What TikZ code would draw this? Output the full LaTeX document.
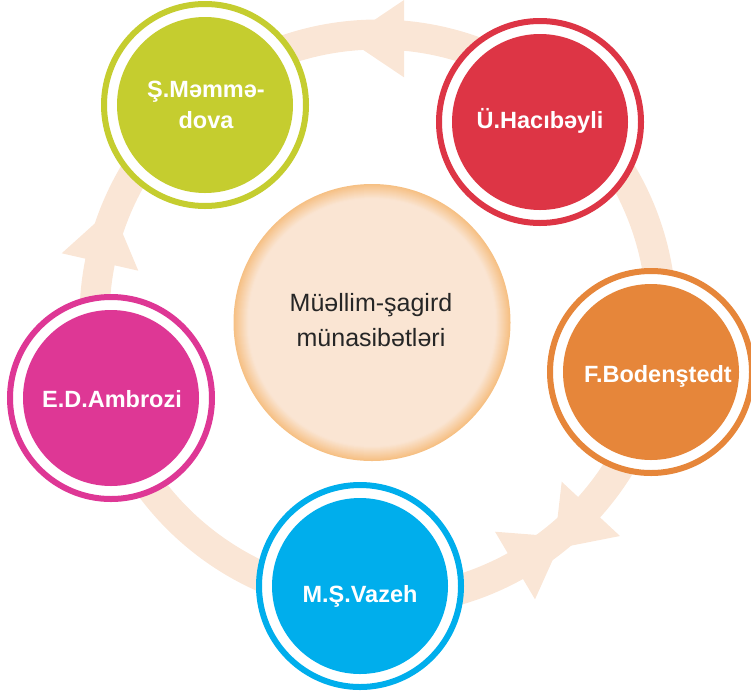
\documentclass[tikz,border=0pt]{standalone}
\usepackage{fontspec}
\setmainfont{Liberation Sans}
\definecolor{bandc}{RGB}{250,230,214}
\definecolor{cpeach}{RGB}{250,229,211}
\definecolor{cedge}{RGB}{246,192,132}
\definecolor{cgreen}{RGB}{197,205,47}
\definecolor{cred}{RGB}{221,53,69}
\definecolor{corange}{RGB}{230,134,58}
\definecolor{cblue}{RGB}{0,174,236}
\definecolor{cpink}{RGB}{222,55,149}
\begin{document}
\begin{tikzpicture}[x=1pt,y=-1pt,
  ringc/.style={circle, line width=6pt, fill=white, minimum size=202pt, inner sep=0pt, outer sep=0pt},
  discc/.style={circle, minimum size=176pt, inner sep=0pt, outer sep=0pt},
  lab/.style={text=white, font=\bfseries\fontsize{23.5}{31}\selectfont, align=center, inner sep=0pt},
  ctext/.style={text=black!85, font=\fontsize{25}{35}\selectfont, align=center, inner sep=0pt},
  arrowfill/.style={fill=bandc}
]
\useasboundingbox (0,0) rectangle (751,694);
% ring band with arrowheads
\draw[bandc, line width=30pt] (378,318) circle[radius=283.5pt];
\fill[arrowfill] (404,0) -- (404,77.3) -- (346.5,38.7) -- cycle;
\fill[arrowfill] (61.7,253.3) -- (138.3,270.7) -- (112,208) -- cycle;
\fill[arrowfill] (561.7,481.7) -- (620,536) -- (554,549) -- cycle;
\fill[arrowfill] (495,531.7) -- (535,599.3) -- (563,537) -- cycle;
% centre with soft orange rim
\node[circle, minimum size=277pt, inner sep=0pt, fill=cedge] (c) at (372,322.5) {};
\foreach \i [evaluate=\i as \p using {min(100,7*\i)}] in {1,...,15}
  \fill[cpeach!\p!cedge] (c.center) circle[radius={(138.5-\i)*1pt}];
\node[ctext] (ct) at (371,320) {Müəllim-şagird\\münasibətləri};
% green
\node[ringc, draw=cgreen] (g) at (205,105) {};
\node[discc, fill=cgreen] (gd) at (g) {};
\node[lab] (gt) at (206,105) {Ş.Məmmə-\\dova};
% red
\node[ringc, draw=cred] (r) at (540,122) {};
\node[discc, fill=cred] (rd) at (r) {};
\node[lab, anchor=base] (rt) at (540,128) {Ü.Hacıbəyli};
% orange
\node[ringc, draw=corange] (o) at (651,372) {};
\node[discc, fill=corange] (od) at (o) {};
\node[lab, anchor=base] (ot) at (658,382) {F.Bodenştedt};
% blue
\node[ringc, draw=cblue] (b) at (360,586) {};
\node[discc, fill=cblue] (bd) at (b) {};
\node[lab, anchor=base] (bt) at (360,602.7) {M.Ş.Vazeh};
% pink
\node[ringc, draw=cpink] (p) at (111,398) {};
\node[discc, fill=cpink] (pd) at (p) {};
\node[lab, anchor=base] (pt) at (112,407.7) {E.D.Ambrozi};
\end{tikzpicture}
\end{document}
